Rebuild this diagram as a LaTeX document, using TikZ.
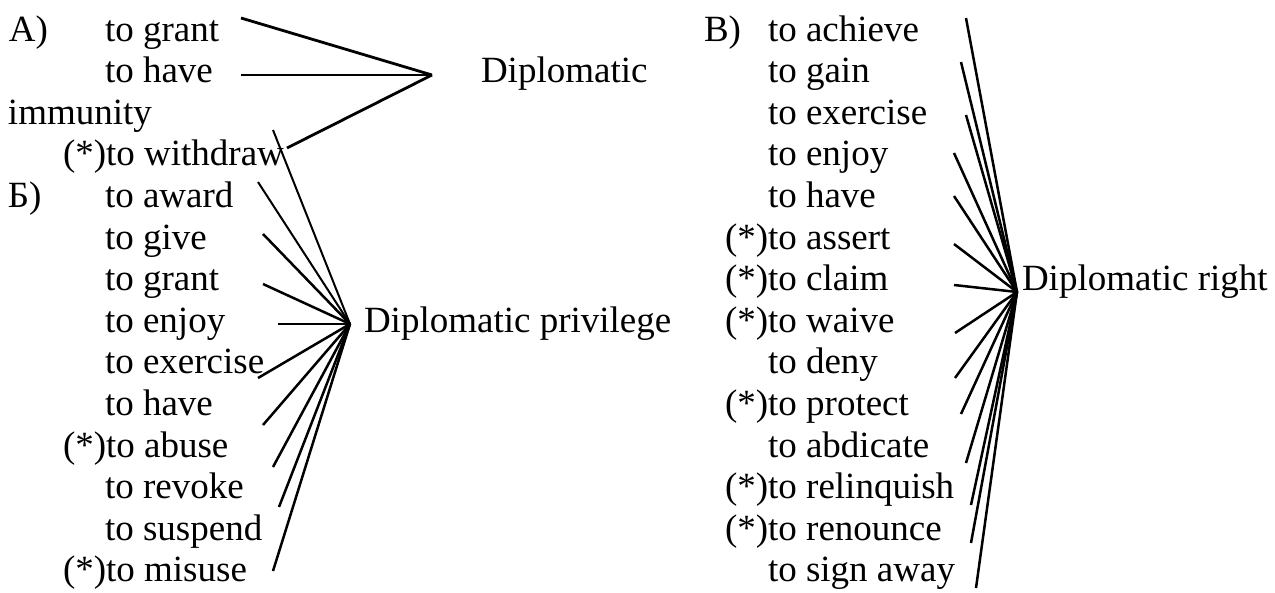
\documentclass[tikz,border=0pt]{standalone}
\usepackage{fontspec}
\setmainfont{Liberation Serif}
\begin{document}
\begin{tikzpicture}[x=1pt,y=-1pt,
  lbl/.style={anchor=base west,inner sep=0pt,outer sep=0pt,font=\fontsize{37}{44}\selectfont},
  lnA/.style={line width=2.8pt},
  lnB/.style={line width=2.5pt},
  lnthin/.style={line width=2pt}]
\useasboundingbox (0,0) rectangle (1275,592);
% ---- group A ----
\node[lbl] (aA) at (9,41) {А)};
\node[lbl] (a1) at (105,41) {to grant};
\node[lbl] (a2) at (105,82.6) {to have};
\node[lbl] (aimm) at (8,124.2) {immunity};
\node[lbl] (a3) at (63,165.8) {(*)to withdraw};
\node[lbl] (dA) at (481,82.6) {Diplomatic};
% ---- group B ----
\node[lbl] (bB) at (8,207.4) {Б)};
\node[lbl] (b1) at (105,207.4) {to award};
\node[lbl] (b2) at (105,249) {to give};
\node[lbl] (b3) at (105,290.6) {to grant};
\node[lbl] (b4) at (105,332.2) {to enjoy};
\node[lbl] (b5) at (105,373.8) {to exercise};
\node[lbl] (b6) at (105,415.4) {to have};
\node[lbl] (b7) at (63,457) {(*)to abuse};
\node[lbl] (b8) at (105,498.6) {to revoke};
\node[lbl] (b9) at (105,540.2) {to suspend};
\node[lbl] (b10) at (63,581.8) {(*)to misuse};
\node[lbl] (dB) at (364,332.2) {Diplomatic privilege};
% ---- group C ----
\node[lbl] (cB) at (704,41) {В)};
\node[lbl] (c1) at (768,41) {to achieve};
\node[lbl] (c2) at (768,82.6) {to gain};
\node[lbl] (c3) at (768,124.2) {to exercise};
\node[lbl] (c4) at (768,165.8) {to enjoy};
\node[lbl] (c5) at (768,207.4) {to have};
\node[lbl] (c6) at (725,249) {(*)to assert};
\node[lbl] (c7) at (725,290.6) {(*)to claim};
\node[lbl] (c8) at (725,332.2) {(*)to waive};
\node[lbl] (c9) at (768,373.8) {to deny};
\node[lbl] (c10) at (725,415.4) {(*)to protect};
\node[lbl] (c11) at (768,457) {to abdicate};
\node[lbl] (c12) at (725,498.6) {(*)to relinquish};
\node[lbl] (c13) at (725,540.2) {(*)to renounce};
\node[lbl] (c14) at (768,581.8) {to sign away};
\node[lbl] (dC) at (1022,290.6) {Diplomatic right};
% ---- connector coordinates ----
\coordinate (vA) at (432,75);
\coordinate (pa1) at (241,18);
\coordinate (pa2) at (241,75);
\coordinate (pa3) at (287,148);
\coordinate (vB) at (350,324);
\coordinate (pb0) at (273,130);
\coordinate (pb1) at (258,182);
\coordinate (pb2) at (263,234);
\coordinate (pb3) at (263,284);
\coordinate (pb4) at (278,324);
\coordinate (pb5) at (258,378);
\coordinate (pb6) at (263,425);
\coordinate (pb7) at (273,467);
\coordinate (pb8) at (279,507);
\coordinate (pb10) at (273,571);
\coordinate (vC) at (1017,292);
\coordinate (pc1) at (966,18);
\coordinate (pc2) at (961,62);
\coordinate (pc3) at (966,115);
\coordinate (pc4) at (954,153);
\coordinate (pc5) at (954,196);
\coordinate (pc6) at (954,244);
\coordinate (pc7) at (954,285);
\coordinate (pc8) at (955,333);
\coordinate (pc9) at (955,378);
\coordinate (pc10) at (961,414);
\coordinate (pc11) at (966,463);
\coordinate (pc12) at (971,505);
\coordinate (pc13) at (971,543);
\coordinate (pc14) at (976,588);
% ---- connectors ----
\draw[lnA] (pa1) -- (vA);
\draw[lnA] (pa2) -- (vA);
\draw[lnA] (pa3) -- (vA);
\draw[lnthin] (pb0) -- (vB);
\draw[lnthin] (pb1) -- (vB);
\foreach \p in {pb2,pb3,pb4,pb5,pb6,pb7,pb8,pb10}
  \draw[lnB] (\p) -- (vB);
\foreach \p in {pc1,pc2,pc3,pc4,pc5,pc6,pc7,pc8,pc9,pc10,pc11,pc12,pc13,pc14}
  \draw[lnB] (\p) -- (vC);
\end{tikzpicture}
\end{document}
